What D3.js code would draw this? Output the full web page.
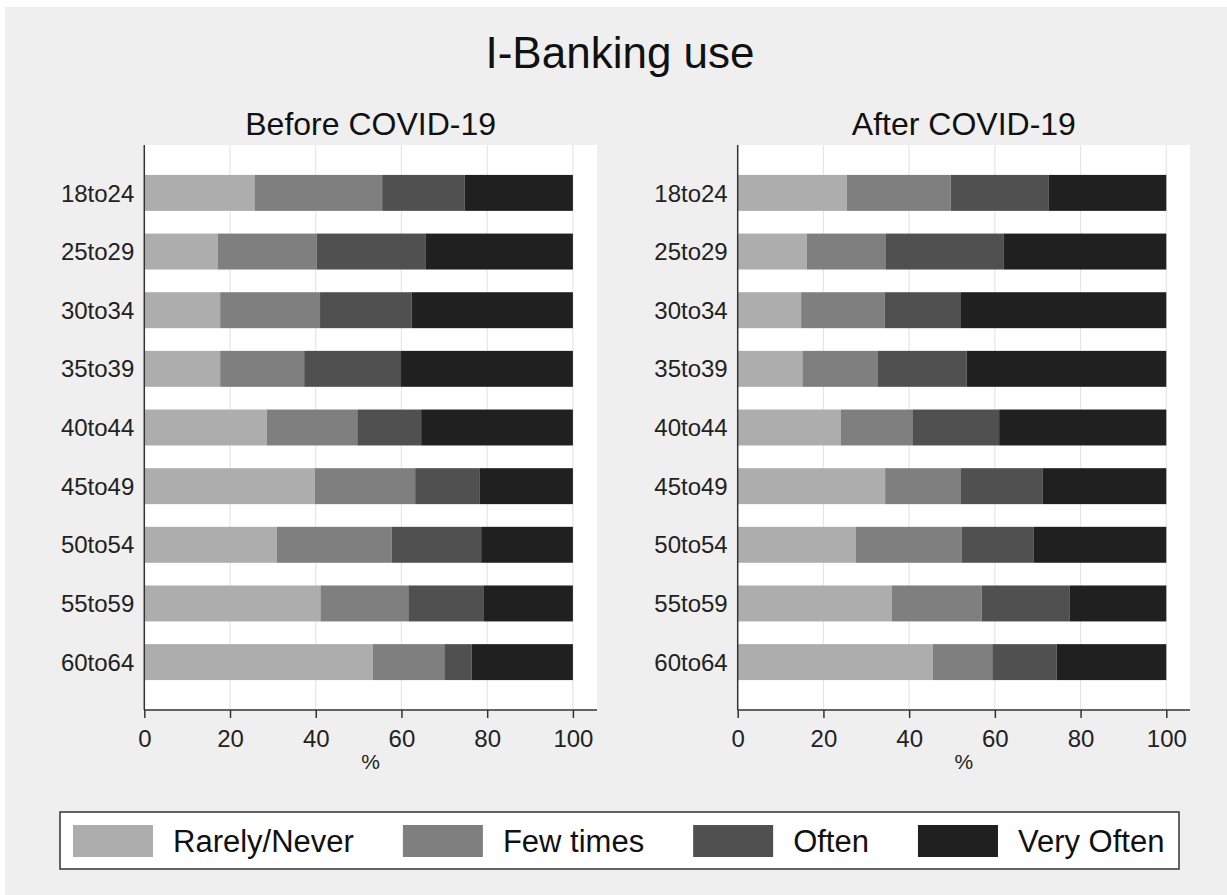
<!DOCTYPE html>
<html>
<head>
<meta charset="utf-8">
<script src="https://cdn.jsdelivr.net/npm/d3@7"></script>
<style>
  html, body { margin: 0; padding: 0; background: #ffffff; }
  svg { display: block; font-family: "Liberation Sans", Arial, sans-serif; }
</style>
</head>
<body>
<svg id="chart" width="1227" height="895"></svg>
<script>
// ---- data ----
const ageGroups = ["18to24","25to29","30to34","35to39","40to44","45to49","50to54","55to59","60to64"];
const seriesNames = ["Rarely/Never","Few times","Often","Very Often"];
const panelTitles = ["Before COVID-19","After COVID-19"];
const xTicks = [0,20,40,60,80,100];

const rarelyBefore = [25.7,17.1,17.7,17.7,28.6,39.8,30.9,41.1,53.3];
const fewBefore    = [29.8,23.1,23.3,19.6,21.1,23.4,26.8,20.5,16.7];
const oftenBefore  = [19.2,25.5,21.4,22.6,14.9,15.1,20.9,17.5,6.4];
const veryBefore   = [25.3,34.3,37.6,40.1,35.4,21.7,21.4,20.9,23.6];

const rarelyAfter = [25.4,16.1,14.8,15.1,24.1,34.4,27.5,35.9,45.5];
const fewAfter    = [24.3,18.5,19.5,17.5,16.8,17.7,24.8,21.0,13.9];
const oftenAfter  = [22.9,27.5,17.8,20.8,20.1,19.1,16.8,20.6,15.0];
const veryAfter   = [27.4,37.9,47.9,46.6,39.0,28.8,30.9,22.5,25.6];

const colors = ["#adadad","#7f7f7f","#505050","#202020"];

function buildRows(r, f, o, v) {
  return ageGroups.map((g, i) => ({
    group: g,
    "Rarely/Never": r[i], "Few times": f[i], "Often": o[i], "Very Often": v[i]
  }));
}
const panels = [
  { title: panelTitles[0], rows: buildRows(rarelyBefore, fewBefore, oftenBefore, veryBefore), left: 144.3, right: 597 },
  { title: panelTitles[1], rows: buildRows(rarelyAfter, fewAfter, oftenAfter, veryAfter), left: 737.7, right: 1190 }
];

const svg = d3.select("#chart");
// background
svg.append("rect").attr("x", 5).attr("y", 7).attr("width", 1222).attr("height", 888).attr("fill", "#efefef");

// main title
svg.append("text").attr("x", 620).attr("y", 68).attr("text-anchor", "middle")
  .attr("font-size", 44).attr("fill", "#111").text("I-Banking use");

const plotTop = 145, plotBottom = 710;
const unitPx = 4.286;

const stack = d3.stack().keys(seriesNames);

panels.forEach(p => {
  const x = d3.scaleLinear().domain([0, 100]).range([p.left, p.left + 100 * unitPx]);
  const y = d3.scaleBand().domain(ageGroups).range([plotTop, plotBottom])
    .paddingInner(0.387).paddingOuter(0.51);
  const g = svg.append("g");

  // plot area
  g.append("rect").attr("x", p.left).attr("y", plotTop)
    .attr("width", p.right - p.left).attr("height", plotBottom - plotTop).attr("fill", "#ffffff");

  // gridlines
  g.append("g").selectAll("line").data(xTicks.filter(t => t > 0)).join("line")
    .attr("x1", d => x(d)).attr("x2", d => x(d))
    .attr("y1", plotTop).attr("y2", plotBottom)
    .attr("stroke", "#e6e6e6").attr("stroke-width", 1.2);

  // subtitle
  g.append("text").attr("x", (p.left + p.right) / 2).attr("y", 135)
    .attr("text-anchor", "middle").attr("font-size", 32).attr("fill", "#111").text(p.title);

  // bars
  const stacked = stack(p.rows);
  g.append("g").selectAll("g").data(stacked).join("g")
    .attr("fill", (d, i) => colors[i])
    .selectAll("rect").data(d => d).join("rect")
    .attr("x", d => x(d[0]))
    .attr("width", d => x(d[1]) - x(d[0]))
    .attr("y", d => y(d.data.group))
    .attr("height", y.bandwidth());

  // y labels
  g.append("g").selectAll("text").data(ageGroups).join("text")
    .attr("x", p.left - 10).attr("y", d => y(d) + y.bandwidth() / 2)
    .attr("dy", "0.36em").attr("text-anchor", "end")
    .attr("font-size", 24).attr("fill", "#222").text(d => d);

  // y axis line
  g.append("line").attr("x1", p.left).attr("x2", p.left).attr("y1", plotTop).attr("y2", plotBottom)
    .attr("stroke", "#333").attr("stroke-width", 1.5);

  // x axis
  const xAxis = d3.axisBottom(x).tickValues(xTicks).tickSize(8).tickPadding(4).tickSizeOuter(0);
  const ax = g.append("g").attr("transform", `translate(0,${plotBottom})`).call(xAxis);
  ax.select(".domain").remove();
  ax.selectAll(".tick line").attr("stroke", "#333").attr("stroke-width", 1.5);
  ax.selectAll(".tick text").attr("font-size", 24).attr("fill", "#222")
    .attr("font-family", "Liberation Sans, Arial, sans-serif").attr("dy", null).attr("y", 37);
  g.append("line").attr("x1", p.left).attr("x2", p.right).attr("y1", plotBottom).attr("y2", plotBottom)
    .attr("stroke", "#333").attr("stroke-width", 1.5);

  // x label
  g.append("text").attr("x", (p.left + p.right) / 2).attr("y", 769)
    .attr("text-anchor", "middle").attr("font-size", 21).attr("fill", "#222").text("%");
});

// legend
const lg = svg.append("g");
lg.append("rect").attr("x", 60).attr("y", 812).attr("width", 1119).attr("height", 57)
  .attr("fill", "#ffffff").attr("stroke", "#333").attr("stroke-width", 1.5);
let cx = 73;
seriesNames.forEach((name, i) => {
  lg.append("rect").attr("x", cx).attr("y", 825).attr("width", 80).attr("height", 32).attr("fill", colors[i]);
  const t = lg.append("text").attr("x", cx + 100).attr("y", 852).attr("font-size", 31)
    .attr("fill", "#111").text(name);
  const w = t.node().getComputedTextLength();
  cx = cx + 100 + w + 49;
});
</script>
</body>
</html>
